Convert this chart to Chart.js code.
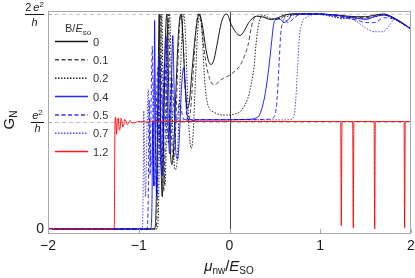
<!DOCTYPE html>
<html><head><meta charset="utf-8">
<script src="https://cdn.jsdelivr.net/npm/chart.js@4/dist/chart.umd.min.js"></script>
<style>html,body{margin:0;padding:0;background:#fff}#wrap{width:415px;height:278px;position:relative}canvas{display:block}</style>
</head><body><div id="wrap"><canvas id="c" width="415" height="278"></canvas></div>
<script>
// ---- data ----
const xTickValues = [-2, -1, 0, 1, 2];
const xTickLabels = ['\u22122', '\u22121', '0', '1', '2'];
const yTickValues = [0, 1, 2];
const seriesLabels = ['0', '0.1', '0.2', '0.4', '0.5', '0.7', '1.2'];

const seriesB00 = [[-2,0],[-0.83,0],[-0.815,0.05],[-0.8,0.6],[-0.785,1.5],[-0.775,2.0],[-0.765,1.4],[-0.75,0.45],[-0.74,0.3],[-0.725,0.9],[-0.705,1.8],[-0.69,2.0],[-0.675,1.5],[-0.655,0.8],[-0.635,0.6],[-0.615,0.75],[-0.59,1.3],[-0.56,1.85],[-0.535,2.0],[-0.515,1.8],[-0.49,1.35],[-0.465,1.12],[-0.44,1.2],[-0.41,1.5],[-0.37,1.85],[-0.335,2.0],[-0.3,1.9],[-0.265,1.7],[-0.23,1.56],[-0.2,1.53],[-0.17,1.58],[-0.13,1.75],[-0.09,1.92],[-0.055,1.99],[-0.03,2.0],[0.02,1.9],[0.07,1.83],[0.116,1.8],[0.16,1.84],[0.22,1.93],[0.3,1.98],[0.38,1.97],[0.45,1.95],[0.52,1.96],[0.6,1.99],[0.7,2.0],[0.8,2.0],[0.9,2.0],[1.0,2.0],[1.1,1.995],[1.2,1.99],[1.3,1.98],[1.4,1.975],[1.5,1.975],[1.6,1.99],[1.7,2.0],[1.8,1.97],[1.9,1.92],[2.0,1.86]];
const seriesB01 = [[-2,0],[-0.815,0],[-0.8,0.1],[-0.785,0.8],[-0.77,1.7],[-0.76,2.0],[-0.75,1.5],[-0.735,0.5],[-0.725,0.35],[-0.71,0.8],[-0.69,1.7],[-0.675,2.0],[-0.66,1.6],[-0.64,0.9],[-0.62,0.65],[-0.6,0.8],[-0.575,1.4],[-0.55,1.9],[-0.53,2.0],[-0.51,1.75],[-0.485,1.25],[-0.46,1.0],[-0.43,1.1],[-0.4,1.45],[-0.37,1.85],[-0.345,2.0],[-0.32,1.95],[-0.29,1.75],[-0.26,1.55],[-0.22,1.4],[-0.19,1.35],[-0.16,1.34],[-0.12,1.37],[-0.07,1.4],[0,1.43],[0.06,1.47],[0.116,1.52],[0.16,1.6],[0.204,1.71],[0.235,1.85],[0.26,1.94],[0.3,1.98],[0.38,1.97],[0.45,1.95],[0.52,1.95],[0.6,1.98],[0.7,2.0],[0.8,2.0],[0.9,2.0],[1.0,2.0],[1.1,1.99],[1.2,1.985],[1.3,1.975],[1.4,1.97],[1.5,1.965],[1.6,1.985],[1.7,1.995],[1.8,1.965],[1.9,1.915],[2.0,1.86]];
const seriesB02 = [[-2,0],[-0.8,0],[-0.785,0.1],[-0.77,0.9],[-0.755,1.8],[-0.745,2.0],[-0.735,1.4],[-0.72,0.5],[-0.71,0.4],[-0.695,0.9],[-0.675,1.8],[-0.66,2.0],[-0.645,1.6],[-0.625,0.9],[-0.6,0.55],[-0.58,0.6],[-0.555,1.1],[-0.53,1.7],[-0.505,2.0],[-0.485,1.8],[-0.46,1.2],[-0.44,0.85],[-0.42,0.75],[-0.4,0.9],[-0.375,1.4],[-0.35,1.85],[-0.325,2.0],[-0.3,1.8],[-0.275,1.4],[-0.25,1.2],[-0.22,1.12],[-0.18,1.09],[-0.13,1.07],[-0.07,1.06],[0,1.06],[0.06,1.07],[0.116,1.09],[0.16,1.14],[0.204,1.22],[0.24,1.35],[0.27,1.5],[0.29,1.7],[0.31,1.85],[0.34,1.96],[0.36,1.99],[0.4,1.98],[0.45,1.96],[0.52,1.95],[0.6,1.97],[0.7,1.99],[0.8,2.0],[0.9,2.0],[1.0,1.995],[1.1,1.98],[1.2,1.965],[1.25,1.96],[1.3,1.965],[1.4,1.965],[1.5,1.955],[1.6,1.975],[1.7,1.99],[1.8,1.96],[1.9,1.91],[2.0,1.86]];
const seriesB04 = [[-2,0],[-0.87,0],[-0.855,0.2],[-0.845,1.0],[-0.835,0.4],[-0.825,1.94],[-0.815,0.8],[-0.8,0.3],[-0.785,1.2],[-0.77,1.6],[-0.755,0.6],[-0.74,0.5],[-0.72,1.4],[-0.7,1.8],[-0.68,1.1],[-0.66,0.7],[-0.64,1.3],[-0.625,1.8],[-0.61,1.3],[-0.59,0.7],[-0.57,0.65],[-0.55,0.9],[-0.53,1.3],[-0.505,1.5],[-0.485,1.3],[-0.465,1.05],[-0.44,1.0],[-0.4,1.012],[-0.3,1.015],[-0.2,1.015],[-0.1,1.015],[0,1.015],[0.1,1.018],[0.2,1.02],[0.28,1.03],[0.33,1.06],[0.38,1.2],[0.41,1.35],[0.44,1.55],[0.465,1.75],[0.485,1.9],[0.5,1.94],[0.53,1.96],[0.56,1.95],[0.6,1.92],[0.65,1.95],[0.7,2.0],[0.8,2.0],[0.9,2.0],[1.0,2.0],[1.1,1.995],[1.2,1.985],[1.3,1.97],[1.4,1.96],[1.5,1.95],[1.6,1.975],[1.7,1.99],[1.8,1.965],[1.9,1.915],[2.0,1.86]];
const seriesB05 = [[-2,0],[-0.91,0],[-0.895,0.3],[-0.885,1.2],[-0.875,0.5],[-0.865,1.1],[-0.85,1.7],[-0.84,0.9],[-0.825,0.4],[-0.81,1.0],[-0.79,1.5],[-0.775,1.0],[-0.755,0.6],[-0.735,1.1],[-0.715,1.55],[-0.695,1.2],[-0.675,0.8],[-0.655,1.1],[-0.635,1.4],[-0.615,1.15],[-0.595,1.0],[-0.57,1.06],[-0.55,1.2],[-0.53,1.1],[-0.5,1.02],[-0.3,1.018],[0,1.018],[0.3,1.018],[0.45,1.022],[0.49,1.04],[0.515,1.12],[0.535,1.35],[0.55,1.6],[0.565,1.82],[0.585,1.92],[0.612,1.96],[0.64,1.92],[0.67,1.93],[0.72,1.97],[0.8,2.0],[0.9,2.0],[1.0,2.0],[1.1,1.99],[1.2,1.975],[1.3,1.96],[1.4,1.945],[1.5,1.92],[1.6,1.92],[1.7,1.965],[1.8,1.955],[1.9,1.915],[2.0,1.86]];
const seriesB07 = [[-2,0],[-0.96,0],[-0.95,0.5],[-0.945,1.1],[-0.935,0.6],[-0.925,0.3],[-0.91,0.9],[-0.895,1.3],[-0.88,0.8],[-0.86,0.6],[-0.845,1.0],[-0.83,1.4],[-0.81,1.1],[-0.79,0.85],[-0.77,1.0],[-0.75,1.25],[-0.73,1.1],[-0.7,1.0],[-0.67,1.06],[-0.64,1.1],[-0.61,1.05],[-0.57,1.015],[-0.3,1.015],[0,1.015],[0.3,1.015],[0.6,1.015],[0.68,1.02],[0.71,1.05],[0.73,1.2],[0.75,1.5],[0.77,1.78],[0.8,1.92],[0.85,1.97],[0.9,1.99],[1.0,2.0],[1.1,1.99],[1.2,1.965],[1.25,1.955],[1.3,1.96],[1.4,1.93],[1.5,1.87],[1.6,1.835],[1.69,1.835],[1.75,1.88],[1.82,1.95],[1.9,1.92],[2.0,1.86]];
const seriesB12 = [[-2,0],[-1.27,0],[-1.262,0.97],[-1.255,1.04],[-1.245,0.88],[-1.235,1.02],[-1.225,1.03],[-1.215,0.92],[-1.205,0.94],[-1.195,1.03],[-1.185,1.0],[-1.175,0.95],[-1.165,0.97],[-1.155,1.02],[-1.14,1.0],[-1.125,0.97],[-1.11,0.99],[-1.095,1.01],[-1.08,0.99],[-1.06,0.985],[-1.0,1.0],[-0.9,0.995],[-0.8,1.0],[0,1.0],[1.225,1.0],[1.232,0.03],[1.24,1.0],[1.357,1.0],[1.364,0.01],[1.371,1.0],[1.593,1.0],[1.6,0.0],[1.607,1.0],[1.923,1.0],[1.93,0.01],[1.937,1.0],[2,1.0]];

const allSeries = [seriesB00, seriesB01, seriesB02, seriesB04, seriesB05, seriesB07, seriesB12];

// ---- styles ----
const styleList = [
  {c:'rgba(0,0,0,0.9)', d:[]},
  {c:'rgba(40,40,40,0.85)', d:[4,2.5]},
  {c:'rgba(0,0,0,0.85)', d:[1.5,1.5]},
  {c:'rgba(0,0,255,0.85)', d:[]},
  {c:'rgba(0,0,255,0.8)', d:[4,2.5]},
  {c:'rgba(20,20,255,0.75)', d:[1.5,1.5]},
  {c:'rgba(255,0,0,0.9)', d:[]}
];

const datasets = allSeries.map((s,i)=>({
  label: seriesLabels[i],
  data: s.map(p=>({x:p[0], y:p[1]})),
  borderColor: styleList[i].c,
  borderDash: styleList[i].d,
  borderWidth: 1,
  pointRadius: 0,
  fill: false,
  cubicInterpolationMode: 'monotone',
  order: allSeries.length - i
}));

const FONT = '"Liberation Sans", Arial, sans-serif';
function runs(ctx, list, x, y, align){
  let w = 0;
  list.forEach(r=>{ ctx.font = r.f; r.w = ctx.measureText(r.t).width; w += r.w + (r.sp||0); });
  let cx = align==='center' ? x - w/2 : (align==='right' ? x - w : x);
  ctx.textAlign = 'left'; ctx.textBaseline = 'alphabetic';
  list.forEach(r=>{ ctx.font = r.f; ctx.fillText(r.t, cx, y + (r.dy||0)); cx += r.w + (r.sp||0); });
}

const deco = {
  id: 'deco',
  beforeDatasetsDraw(chart){
    const {ctx, chartArea:a, scales:{x, y}} = chart;
    ctx.save();
    ctx.strokeStyle = '#c4c4c4'; ctx.lineWidth = 1; ctx.setLineDash([4,3]);
    [1,2].forEach(v=>{ const py = Math.round(y.getPixelForValue(v))+0.5; ctx.beginPath(); ctx.moveTo(a.left, py); ctx.lineTo(a.right, py); ctx.stroke(); });
    ctx.setLineDash([]);
    const px0 = Math.round(x.getPixelForValue(0))+0.5;
    ctx.strokeStyle = '#444'; ctx.beginPath(); ctx.moveTo(px0, a.top); ctx.lineTo(px0, a.bottom); ctx.stroke();
    ctx.restore();
  },
  afterDraw(chart){
    const {ctx, chartArea:a, scales:{x, y}} = chart;
    ctx.save();
    ctx.strokeStyle = '#a8a8a8'; ctx.lineWidth = 1;
    ctx.strokeRect(a.left+0.5, a.top+0.5, a.right-a.left-1, a.bottom-a.top);
    xTickValues.forEach(v=>{ const px = Math.round(x.getPixelForValue(v))+0.5; ctx.beginPath(); ctx.moveTo(px, a.bottom); ctx.lineTo(px, a.bottom-4); ctx.stroke(); });
    yTickValues.forEach(v=>{ const py = Math.round(y.getPixelForValue(v))+0.5; ctx.beginPath(); ctx.moveTo(a.left, py); ctx.lineTo(a.left+4, py); ctx.stroke(); });
    ctx.fillStyle = '#1a1a1a';
    xTickValues.forEach((v,i)=>{ runs(ctx, [{t:xTickLabels[i], f:'14px '+FONT}], x.getPixelForValue(v), 250, 'center'); });
    const y0 = y.getPixelForValue(0), y1 = y.getPixelForValue(1), y2 = y.getPixelForValue(2);
    runs(ctx, [{t:'0', f:'14px '+FONT}], 44, y0+4, 'right');
    ctx.fillRect(31, Math.round(y1), 13, 1);
    runs(ctx, [{t:'e', f:'italic 11px '+FONT},{t:'2', f:'8px '+FONT, dy:-4}], 37.5, y1-2.5, 'center');
    runs(ctx, [{t:'h', f:'italic 11px '+FONT}], 37.5, y1+10.5, 'center');
    ctx.fillRect(25, Math.round(y2), 19, 1);
    runs(ctx, [{t:'2', f:'11px '+FONT, sp:2},{t:'e', f:'italic 11px '+FONT},{t:'2', f:'8px '+FONT, dy:-4}], 34.5, y2-2.5, 'center');
    runs(ctx, [{t:'h', f:'italic 11px '+FONT}], 34.5, y2+12, 'center');
    runs(ctx, [{t:'\u03bc', f:'italic 15px '+FONT},{t:'nw', f:'10px '+FONT, dy:3},{t:'/', f:'15px '+FONT},{t:'E', f:'italic 15px '+FONT},{t:'SO', f:'10px '+FONT, dy:3}], 229, 271, 'center');
    ctx.save(); ctx.translate(14, 120); ctx.rotate(-Math.PI/2);
    runs(ctx, [{t:'G', f:'15px '+FONT},{t:'N', f:'10px '+FONT, dy:3}], 0, 0, 'center');
    ctx.restore();
    ctx.fillStyle = '#333';
    runs(ctx, [{t:'B/', f:'11px '+FONT},{t:'E', f:'italic 11px '+FONT},{t:'so', f:'8px '+FONT, dy:3}], 65, 32, 'left');
    chart.data.datasets.forEach((ds,i)=>{
      const ly = 41.5 + i*18.35;
      ctx.strokeStyle = ds.borderColor; ctx.lineWidth = 1.5; ctx.setLineDash(ds.borderDash);
      ctx.beginPath(); ctx.moveTo(55, ly); ctx.lineTo(88, ly); ctx.stroke();
      ctx.setLineDash([]);
      ctx.fillStyle = '#333';
      runs(ctx, [{t:ds.label, f:'11px '+FONT}], 93, ly+4, 'left');
    });
    ctx.restore();
  }
};

new Chart(document.getElementById('c'), {
  type: 'line',
  data: { datasets },
  options: {
    responsive: false, animation: false, devicePixelRatio: 1,
    layout: { padding: { left: 48, right: 4, top: 11, bottom: 45 } },
    scales: {
      x: { type: 'linear', display: false, min: -2, max: 2 },
      y: { type: 'linear', display: false, min: -0.0372, max: 2.0279 }
    },
    plugins: { legend: { display: false }, tooltip: { enabled: false } }
  },
  plugins: [deco]
});
</script>
</body></html>
